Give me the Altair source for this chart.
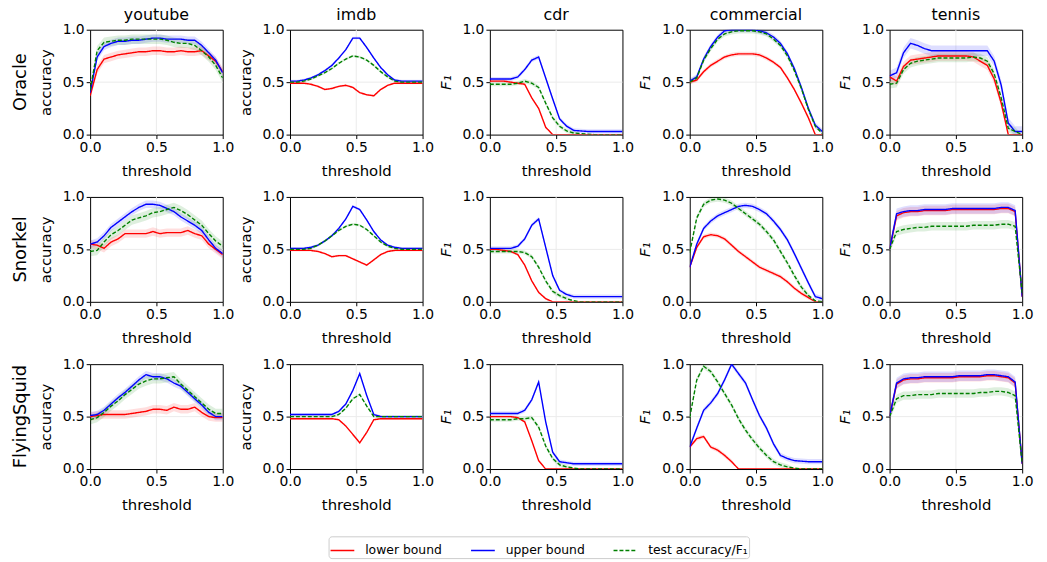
import altair as alt
import pandas as pd

X = [0.0, 0.053, 0.105, 0.158, 0.211, 0.263, 0.316, 0.368, 0.421, 0.474,
     0.526, 0.579, 0.632, 0.684, 0.737, 0.789, 0.842, 0.895, 0.947, 1.0]

SERIES = ["lower bound", "upper bound", "test accuracy/F₁"]
COLORS = ["#ff0000", "#0000ff", "#008000"]
ROWS = ["Oracle", "Snorkel", "FlyingSquid"]
COLS = ["youtube", "imdb", "cdr", "commercial", "tennis"]
YTITLES = ["accuracy", "accuracy", "F₁", "F₁", "F₁"]

# ---------------- Oracle ----------------
oracle_youtube_lo = [0.37, 0.62, 0.72, 0.74, 0.76, 0.77, 0.78, 0.79, 0.79, 0.80, 0.80, 0.79, 0.79, 0.80, 0.79, 0.79, 0.80, 0.75, 0.70, 0.60]
oracle_youtube_up = [0.40, 0.74, 0.84, 0.87, 0.89, 0.89, 0.90, 0.90, 0.91, 0.92, 0.92, 0.91, 0.91, 0.91, 0.90, 0.90, 0.85, 0.78, 0.71, 0.59]
oracle_youtube_te = [0.42, 0.80, 0.88, 0.89, 0.90, 0.90, 0.91, 0.91, 0.91, 0.91, 0.91, 0.90, 0.88, 0.87, 0.87, 0.85, 0.80, 0.74, 0.66, 0.54]

oracle_imdb_lo = [0.49, 0.49, 0.49, 0.48, 0.46, 0.43, 0.44, 0.46, 0.47, 0.45, 0.40, 0.38, 0.37, 0.43, 0.47, 0.49, 0.49, 0.49, 0.49, 0.49]
oracle_imdb_up = [0.51, 0.51, 0.52, 0.54, 0.57, 0.61, 0.66, 0.73, 0.81, 0.92, 0.92, 0.83, 0.73, 0.64, 0.57, 0.52, 0.51, 0.51, 0.51, 0.51]
oracle_imdb_te = [0.50, 0.50, 0.51, 0.53, 0.56, 0.59, 0.63, 0.68, 0.72, 0.75, 0.74, 0.71, 0.66, 0.60, 0.55, 0.51, 0.50, 0.50, 0.50, 0.50]

oracle_cdr_lo = [0.51, 0.51, 0.51, 0.50, 0.49, 0.48, 0.35, 0.25, 0.07, 0.0, 0.0, 0.0, 0.0, 0.0, 0.0, 0.0, 0.0, 0.0, 0.0, 0.0]
oracle_cdr_up = [0.53, 0.53, 0.53, 0.53, 0.55, 0.62, 0.71, 0.74, 0.54, 0.34, 0.15, 0.08, 0.04, 0.035, 0.03, 0.03, 0.03, 0.03, 0.03, 0.03]
oracle_cdr_te = [0.48, 0.48, 0.48, 0.48, 0.49, 0.51, 0.49, 0.45, 0.30, 0.16, 0.08, 0.035, 0.015, 0.01, 0.005, 0.0, 0.0, 0.0, 0.0, 0.0]

oracle_commercial_lo = [0.50, 0.52, 0.60, 0.66, 0.70, 0.74, 0.76, 0.77, 0.77, 0.77, 0.76, 0.73, 0.69, 0.64, 0.54, 0.43, 0.30, 0.16, 0.0, 0.0]
oracle_commercial_up = [0.51, 0.55, 0.72, 0.84, 0.93, 0.99, 1.0, 1.0, 1.0, 1.0, 0.99, 0.97, 0.93, 0.87, 0.77, 0.63, 0.45, 0.25, 0.09, 0.03]
oracle_commercial_te = [0.50, 0.54, 0.71, 0.82, 0.91, 0.96, 0.98, 0.99, 0.99, 0.99, 0.98, 0.96, 0.91, 0.85, 0.75, 0.61, 0.44, 0.24, 0.08, 0.01]

oracle_tennis_lo = [0.55, 0.51, 0.65, 0.71, 0.72, 0.73, 0.74, 0.75, 0.75, 0.75, 0.75, 0.75, 0.74, 0.70, 0.66, 0.53, 0.30, 0.0, 0.0, 0.0]
oracle_tennis_up = [0.56, 0.59, 0.78, 0.87, 0.85, 0.82, 0.80, 0.80, 0.80, 0.80, 0.80, 0.80, 0.80, 0.80, 0.80, 0.70, 0.47, 0.11, 0.03, 0.03]
oracle_tennis_te = [0.48, 0.49, 0.62, 0.68, 0.70, 0.71, 0.72, 0.73, 0.73, 0.73, 0.73, 0.73, 0.74, 0.73, 0.70, 0.58, 0.35, 0.06, 0.03, 0.0]

# ---------------- Snorkel ----------------
snorkel_youtube_lo = [0.55, 0.54, 0.51, 0.57, 0.60, 0.65, 0.65, 0.65, 0.65, 0.67, 0.65, 0.66, 0.66, 0.66, 0.68, 0.65, 0.63, 0.55, 0.50, 0.45]
snorkel_youtube_up = [0.55, 0.57, 0.63, 0.71, 0.76, 0.81, 0.86, 0.90, 0.93, 0.93, 0.92, 0.89, 0.86, 0.81, 0.77, 0.73, 0.68, 0.59, 0.51, 0.46]
snorkel_youtube_te = [0.48, 0.49, 0.57, 0.64, 0.68, 0.73, 0.78, 0.80, 0.82, 0.85, 0.86, 0.88, 0.90, 0.87, 0.83, 0.78, 0.73, 0.65, 0.58, 0.53]

snorkel_imdb_lo = [0.49, 0.49, 0.49, 0.49, 0.48, 0.46, 0.43, 0.44, 0.44, 0.41, 0.38, 0.35, 0.40, 0.45, 0.48, 0.49, 0.49, 0.49, 0.49, 0.49]
snorkel_imdb_up = [0.51, 0.51, 0.51, 0.52, 0.54, 0.58, 0.63, 0.70, 0.79, 0.91, 0.88, 0.78, 0.67, 0.59, 0.54, 0.52, 0.51, 0.51, 0.51, 0.51]
snorkel_imdb_te = [0.50, 0.50, 0.50, 0.51, 0.54, 0.58, 0.63, 0.68, 0.72, 0.74, 0.73, 0.69, 0.63, 0.57, 0.53, 0.51, 0.50, 0.50, 0.50, 0.50]

snorkel_cdr_lo = [0.50, 0.50, 0.49, 0.48, 0.45, 0.35, 0.20, 0.09, 0.03, 0.0, 0.0, 0.0, 0.0, 0.0, 0.0, 0.0, 0.0, 0.0, 0.0, 0.0]
snorkel_cdr_up = [0.51, 0.51, 0.51, 0.51, 0.53, 0.60, 0.73, 0.79, 0.52, 0.25, 0.11, 0.07, 0.05, 0.05, 0.05, 0.05, 0.05, 0.05, 0.05, 0.05]
snorkel_cdr_te = [0.48, 0.48, 0.48, 0.48, 0.48, 0.47, 0.43, 0.33, 0.20, 0.10, 0.06, 0.03, 0.01, 0.0, 0.0, 0.0, 0.0, 0.0, 0.0, 0.0]

snorkel_commercial_lo = [0.33, 0.52, 0.62, 0.64, 0.63, 0.60, 0.54, 0.48, 0.43, 0.38, 0.33, 0.30, 0.27, 0.24, 0.19, 0.13, 0.08, 0.04, 0.0, 0.0]
snorkel_commercial_up = [0.33, 0.55, 0.70, 0.77, 0.82, 0.85, 0.88, 0.91, 0.92, 0.91, 0.88, 0.84, 0.77, 0.69, 0.59, 0.46, 0.32, 0.18, 0.05, 0.03]
snorkel_commercial_te = [0.47, 0.80, 0.93, 0.97, 0.98, 0.97, 0.94, 0.89, 0.84, 0.79, 0.74, 0.67, 0.59, 0.48, 0.37, 0.25, 0.14, 0.06, 0.01, 0.0]

snorkel_tennis_lo = [0.50, 0.82, 0.85, 0.86, 0.86, 0.87, 0.87, 0.87, 0.87, 0.88, 0.88, 0.88, 0.88, 0.88, 0.88, 0.88, 0.89, 0.89, 0.86, 0.05]
snorkel_tennis_up = [0.50, 0.84, 0.86, 0.87, 0.87, 0.88, 0.88, 0.88, 0.88, 0.89, 0.89, 0.89, 0.89, 0.89, 0.89, 0.89, 0.90, 0.90, 0.87, 0.05]
snorkel_tennis_te = [0.50, 0.67, 0.69, 0.70, 0.71, 0.71, 0.72, 0.72, 0.72, 0.72, 0.72, 0.72, 0.73, 0.73, 0.73, 0.73, 0.74, 0.74, 0.72, 0.08]

# ---------------- FlyingSquid ----------------
fs_youtube_lo = [0.50, 0.51, 0.52, 0.52, 0.52, 0.52, 0.53, 0.54, 0.55, 0.57, 0.57, 0.56, 0.59, 0.57, 0.57, 0.59, 0.54, 0.50, 0.49, 0.49]
fs_youtube_up = [0.51, 0.52, 0.56, 0.62, 0.68, 0.73, 0.79, 0.85, 0.90, 0.88, 0.88, 0.86, 0.82, 0.79, 0.73, 0.67, 0.61, 0.54, 0.50, 0.50]
fs_youtube_te = [0.47, 0.49, 0.54, 0.60, 0.65, 0.71, 0.76, 0.81, 0.84, 0.86, 0.86, 0.87, 0.88, 0.81, 0.75, 0.69, 0.63, 0.57, 0.53, 0.53]

fs_imdb_lo = [0.48, 0.48, 0.48, 0.48, 0.48, 0.48, 0.48, 0.47, 0.41, 0.33, 0.25, 0.35, 0.47, 0.48, 0.48, 0.48, 0.48, 0.48, 0.48, 0.48]
fs_imdb_up = [0.52, 0.52, 0.52, 0.52, 0.52, 0.52, 0.52, 0.55, 0.62, 0.75, 0.91, 0.70, 0.52, 0.50, 0.50, 0.50, 0.50, 0.50, 0.50, 0.50]
fs_imdb_te = [0.50, 0.50, 0.50, 0.50, 0.50, 0.50, 0.50, 0.52, 0.58, 0.67, 0.71, 0.60, 0.50, 0.50, 0.50, 0.50, 0.50, 0.50, 0.50, 0.50]

fs_cdr_lo = [0.50, 0.50, 0.50, 0.50, 0.49, 0.45, 0.27, 0.08, 0.0, 0.0, 0.0, 0.0, 0.0, 0.0, 0.0, 0.0, 0.0, 0.0, 0.0, 0.0]
fs_cdr_up = [0.53, 0.53, 0.53, 0.53, 0.53, 0.56, 0.66, 0.83, 0.45, 0.16, 0.07, 0.06, 0.05, 0.05, 0.05, 0.05, 0.05, 0.05, 0.05, 0.05]
fs_cdr_te = [0.47, 0.47, 0.47, 0.47, 0.48, 0.48, 0.49, 0.40, 0.22, 0.10, 0.04, 0.02, 0.01, 0.0, 0.0, 0.0, 0.0, 0.0, 0.0, 0.0]

fs_commercial_lo = [0.21, 0.29, 0.31, 0.21, 0.18, 0.13, 0.07, 0.0, 0.0, 0.0, 0.0, 0.0, 0.0, 0.0, 0.0, 0.0, 0.0, 0.0, 0.0, 0.0]
fs_commercial_up = [0.21, 0.39, 0.56, 0.63, 0.72, 0.85, 1.0, 0.91, 0.82, 0.66, 0.51, 0.39, 0.24, 0.13, 0.10, 0.08, 0.075, 0.07, 0.07, 0.07]
fs_commercial_te = [0.49, 0.85, 0.98, 0.93, 0.83, 0.72, 0.61, 0.48, 0.37, 0.28, 0.20, 0.13, 0.07, 0.04, 0.02, 0.01, 0.0, 0.0, 0.0, 0.0]

fs_tennis_lo = [0.50, 0.81, 0.85, 0.86, 0.86, 0.87, 0.87, 0.87, 0.87, 0.87, 0.88, 0.88, 0.88, 0.88, 0.89, 0.89, 0.88, 0.87, 0.82, 0.05]
fs_tennis_up = [0.50, 0.82, 0.86, 0.87, 0.87, 0.88, 0.88, 0.88, 0.88, 0.88, 0.89, 0.89, 0.89, 0.89, 0.90, 0.90, 0.89, 0.88, 0.83, 0.05]
fs_tennis_te = [0.50, 0.67, 0.70, 0.70, 0.71, 0.71, 0.71, 0.72, 0.72, 0.72, 0.72, 0.72, 0.72, 0.73, 0.73, 0.74, 0.74, 0.73, 0.70, 0.05]

DATA = {
    ("Oracle", "youtube"): (oracle_youtube_lo, oracle_youtube_up, oracle_youtube_te),
    ("Oracle", "imdb"): (oracle_imdb_lo, oracle_imdb_up, oracle_imdb_te),
    ("Oracle", "cdr"): (oracle_cdr_lo, oracle_cdr_up, oracle_cdr_te),
    ("Oracle", "commercial"): (oracle_commercial_lo, oracle_commercial_up, oracle_commercial_te),
    ("Oracle", "tennis"): (oracle_tennis_lo, oracle_tennis_up, oracle_tennis_te),
    ("Snorkel", "youtube"): (snorkel_youtube_lo, snorkel_youtube_up, snorkel_youtube_te),
    ("Snorkel", "imdb"): (snorkel_imdb_lo, snorkel_imdb_up, snorkel_imdb_te),
    ("Snorkel", "cdr"): (snorkel_cdr_lo, snorkel_cdr_up, snorkel_cdr_te),
    ("Snorkel", "commercial"): (snorkel_commercial_lo, snorkel_commercial_up, snorkel_commercial_te),
    ("Snorkel", "tennis"): (snorkel_tennis_lo, snorkel_tennis_up, snorkel_tennis_te),
    ("FlyingSquid", "youtube"): (fs_youtube_lo, fs_youtube_up, fs_youtube_te),
    ("FlyingSquid", "imdb"): (fs_imdb_lo, fs_imdb_up, fs_imdb_te),
    ("FlyingSquid", "cdr"): (fs_cdr_lo, fs_cdr_up, fs_cdr_te),
    ("FlyingSquid", "commercial"): (fs_commercial_lo, fs_commercial_up, fs_commercial_te),
    ("FlyingSquid", "tennis"): (fs_tennis_lo, fs_tennis_up, fs_tennis_te),
}

# half-width of the shaded band (lower, upper, test) per dataset
BAND = {
    "youtube": [0.04, 0.035, 0.045],
    "imdb": [0.01, 0.012, 0.012],
    "cdr": [0.012, 0.02, 0.02],
    "commercial": [0.02, 0.025, 0.025],
    "tennis": [0.045, 0.05, 0.04],
}

W, H = 134, 106

xscale = alt.Scale(domain=[0, 1], nice=False, zero=False)
yscale = alt.Scale(domain=[0, 1], nice=False, zero=False)
legend = alt.Legend(
    orient="none", direction="horizontal", legendX=241, legendY=512, title="",
    symbolType="stroke", symbolSize=576, symbolStrokeWidth=1.5,
    labelFontSize=12.5, labelFont="DejaVu Sans", labelColor="black",
    columnPadding=26, labelOffset=10, strokeColor="#cccccc", fillColor="white",
    cornerRadius=3, padding=1,
)


def panel(ri, ci):
    r, c = ROWS[ri], COLS[ci]
    vals = DATA[(r, c)]
    bw = BAND[c]
    ytitle = YTITLES[ci]
    xenc = alt.X("x:Q", scale=xscale, title="threshold",
                 axis=alt.Axis(values=[0, 0.5, 1], format=".1f", labelFlush=False))
    yaxis = alt.Axis(values=[0, 0.5, 1], format=".1f", labelFlush=False,
                     titleFontStyle="italic" if ytitle != "accuracy" else "normal")
    yenc = alt.Y("v:Q", scale=yscale, title=ytitle, axis=yaxis)

    grid_df = pd.DataFrame({"x": [0.5], "v": [0.5]})
    layers = [
        alt.Chart(grid_df).mark_rule(color="#ebebeb", strokeWidth=1).encode(x=xenc),
        alt.Chart(grid_df).mark_rule(color="#ebebeb", strokeWidth=1).encode(y=yenc),
    ]
    recs = []
    for s, arr, w, col in zip(SERIES, vals, bw, COLORS):
        band = []
        for x, v in zip(X, arr):
            ww = w if v > 0.01 else 0.0
            band.append({"x": x, "v": v - ww, "v2": v + ww})
            recs.append({"x": x, "v": v, "series": s})
        layers.append(
            alt.Chart(pd.DataFrame(band)).mark_area(color=col, opacity=0.13, clip=True).encode(
                x=xenc, y=yenc, y2="v2:Q"
            )
        )
    df = pd.DataFrame(recs)
    line = alt.Chart(df).mark_line(strokeWidth=1.4, clip=True).encode(
        x=xenc,
        y=yenc,
        color=alt.Color("series:N", scale=alt.Scale(domain=SERIES, range=COLORS), legend=legend),
        strokeDash=alt.StrokeDash("series:N", scale=alt.Scale(domain=SERIES, range=[[1, 0], [1, 0], [4, 2]]), legend=legend),
    )
    layers.append(line)
    if ci == 0:
        lab = alt.Chart(pd.DataFrame({"t": [r]})).mark_text(
            angle=270, fontSize=18, font="DejaVu Sans", color="black",
            align="center", baseline="middle"
        ).encode(text="t:N", x=alt.value(-70), y=alt.value(H / 2))
        layers.append(lab)
    ch = alt.layer(*layers).properties(width=W, height=H)
    if ri == 0:
        ch = ch.properties(title=alt.TitleParams(c, fontSize=16, font="DejaVu Sans",
                                                 fontWeight="normal", anchor="middle", offset=0, color="black"))
    return ch


panels = [panel(ri, ci) for ri in range(3) for ci in range(5)]

chart = alt.concat(*panels, columns=5, spacing={"row": 63, "column": 68}, bounds="flush").resolve_scale(
    color="shared", strokeDash="shared"
).properties(
    padding={"left": 3, "top": -5, "right": 5, "bottom": 0}
).configure_view(
    stroke="black", strokeWidth=1
).configure_axis(
    labelFont="DejaVu Sans", labelFontSize=14, labelColor="black",
    titleFont="DejaVu Sans", titleFontSize=15, titleFontWeight="normal", titleColor="black",
    tickColor="black", tickSize=4, labelPadding=2, domain=False, grid=False,
).configure_axisX(titlePadding=9).configure_axisY(titlePadding=9)

chart.save("out.html", embed_options={"renderer": "svg", "actions": False})
